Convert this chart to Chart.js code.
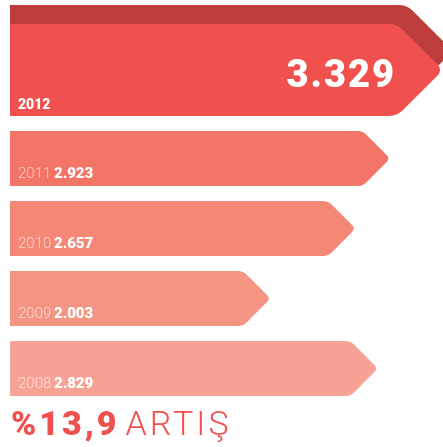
<!DOCTYPE html>
<html lang="tr">
<head>
<meta charset="utf-8">
<title>Artış</title>
<script src="https://cdn.jsdelivr.net/npm/chart.js@4/dist/chart.umd.min.js"></script>
<style>
    html, body { margin: 0; padding: 0; background: #fff; }
    .wrap { position: relative; width: 443px; height: 447px; overflow: hidden; }
    .growth {
        position: absolute; left: 11px; top: 403px;
        font-family: Roboto, "DejaVu Sans", sans-serif;
        font-size: 34px; line-height: 40px; color: #f0504e; white-space: nowrap;
    }
    .growth b { font-weight: 900; letter-spacing: 3px; margin-right: 6px; }
    .growth span { font-weight: 300; letter-spacing: 3px; }
</style>
</head>
<body>
<div class="wrap">
    <canvas id="yearsChart"></canvas>
    <div class="growth"><b>%13,9</b><span>ARTIŞ</span></div>
</div>

<script>
// ==========================================
// Data
// ==========================================
const years = ['2012', '2011', '2010', '2009', '2008'];
const totals = [3329, 2923, 2657, 2003, 2829];
const valueLabels = ['3.329', '2.923', '2.657', '2.003', '2.829'];

const barColors = ['#f0504e', '#f27567', '#f48776', '#f49483', '#f6a395'];
const bandColor = '#bd3c3c';

// ==========================================
// Arrow shaped bars (drawn from the bar elements)
// ==========================================
function arrowPath(ctx, left, top, tip, bottom, r) {
    const depth = (bottom - top) / 2;
    const mid = top + depth;
    const c = r * 0.7071;
    ctx.beginPath();
    ctx.moveTo(left, top);
    ctx.lineTo(tip - depth - r, top);
    ctx.quadraticCurveTo(tip - depth, top, tip - depth + c, top + c);
    ctx.lineTo(tip - c, mid - c);
    ctx.quadraticCurveTo(tip, mid, tip - c, mid + c);
    ctx.lineTo(tip - depth + c, bottom - c);
    ctx.quadraticCurveTo(tip - depth, bottom, tip - depth - r, bottom);
    ctx.lineTo(left, bottom);
    ctx.closePath();
}

const arrowBars = {
    id: 'arrowBars',
    afterDatasetsDraw(chart) {
        const ctx = chart.ctx;
        const meta = chart.getDatasetMeta(0);

        // shapes first
        meta.data.forEach((bar, i) => {
            const half = bar.height / 2;
            let top = bar.y - half;
            const bottom = bar.y + half;
            if (i === 0) {
                // hero bar: taller, with a darker band behind it
                top -= 37;
                ctx.fillStyle = bandColor;
                arrowPath(ctx, bar.base, top - 19, bar.x + 10, bottom - 19, 8);
                ctx.fill();
            }
            ctx.fillStyle = barColors[i];
            arrowPath(ctx, bar.base, top, bar.x, bottom, i === 0 ? 8 : 5);
            ctx.fill();
        });

        // then labels
        ctx.save();
        ctx.textAlign = 'left';
        ctx.textBaseline = 'alphabetic';
        meta.data.forEach((bar, i) => {
            const bottom = bar.y + bar.height / 2;
            const left = bar.base;
            if (i === 0) {
                const depth = (bar.height + 37) / 2;
                ctx.fillStyle = '#fff';
                ctx.font = '900 14px Roboto, sans-serif';
                ctx.fillText(years[i], left + 8, bottom - 7);
                ctx.font = '900 38px Roboto, sans-serif';
                const chars = valueLabels[i].split('');
                const widths = chars.map(ch => ctx.measureText(ch).width);
                const total = widths.reduce((a, b) => a + b, 0) + 2 * (chars.length - 1);
                let x = bar.x - depth - 3 - total;
                chars.forEach((ch, k) => {
                    ctx.fillText(ch, x, bottom - 29);
                    x += widths[k] + 2;
                });
            } else {
                ctx.font = '300 15px Roboto, sans-serif';
                ctx.fillStyle = 'rgba(255,255,255,0.62)';
                const yearText = years[i] + ' ';
                ctx.fillText(yearText, left + 8, bottom - 8);
                const w = ctx.measureText(yearText).width;
                ctx.font = '900 15px Roboto, sans-serif';
                ctx.fillStyle = '#fff';
                ctx.fillText(valueLabels[i], left + 7 + w, bottom - 8);
            }
        });
        ctx.restore();
    }
};

// ==========================================
// Chart
// ==========================================
const ctx = document.getElementById('yearsChart').getContext('2d');
new Chart(ctx, {
    type: 'bar',
    data: {
        labels: years,
        datasets: [{
            data: totals,
            backgroundColor: 'rgba(0,0,0,0)',
            borderWidth: 0,
            barThickness: 55
        }]
    },
    options: {
        indexAxis: 'y',
        responsive: true,
        maintainAspectRatio: false,
        animation: false,
        layout: { padding: { top: 53.5, bottom: 43.5, left: 10, right: 0 } },
        scales: {
            x: { display: false, min: 0, max: 3329 },
            y: { display: false }
        },
        plugins: {
            legend: { display: false },
            tooltip: { enabled: false }
        }
    },
    plugins: [arrowBars]
});
</script>
</body>
</html>
